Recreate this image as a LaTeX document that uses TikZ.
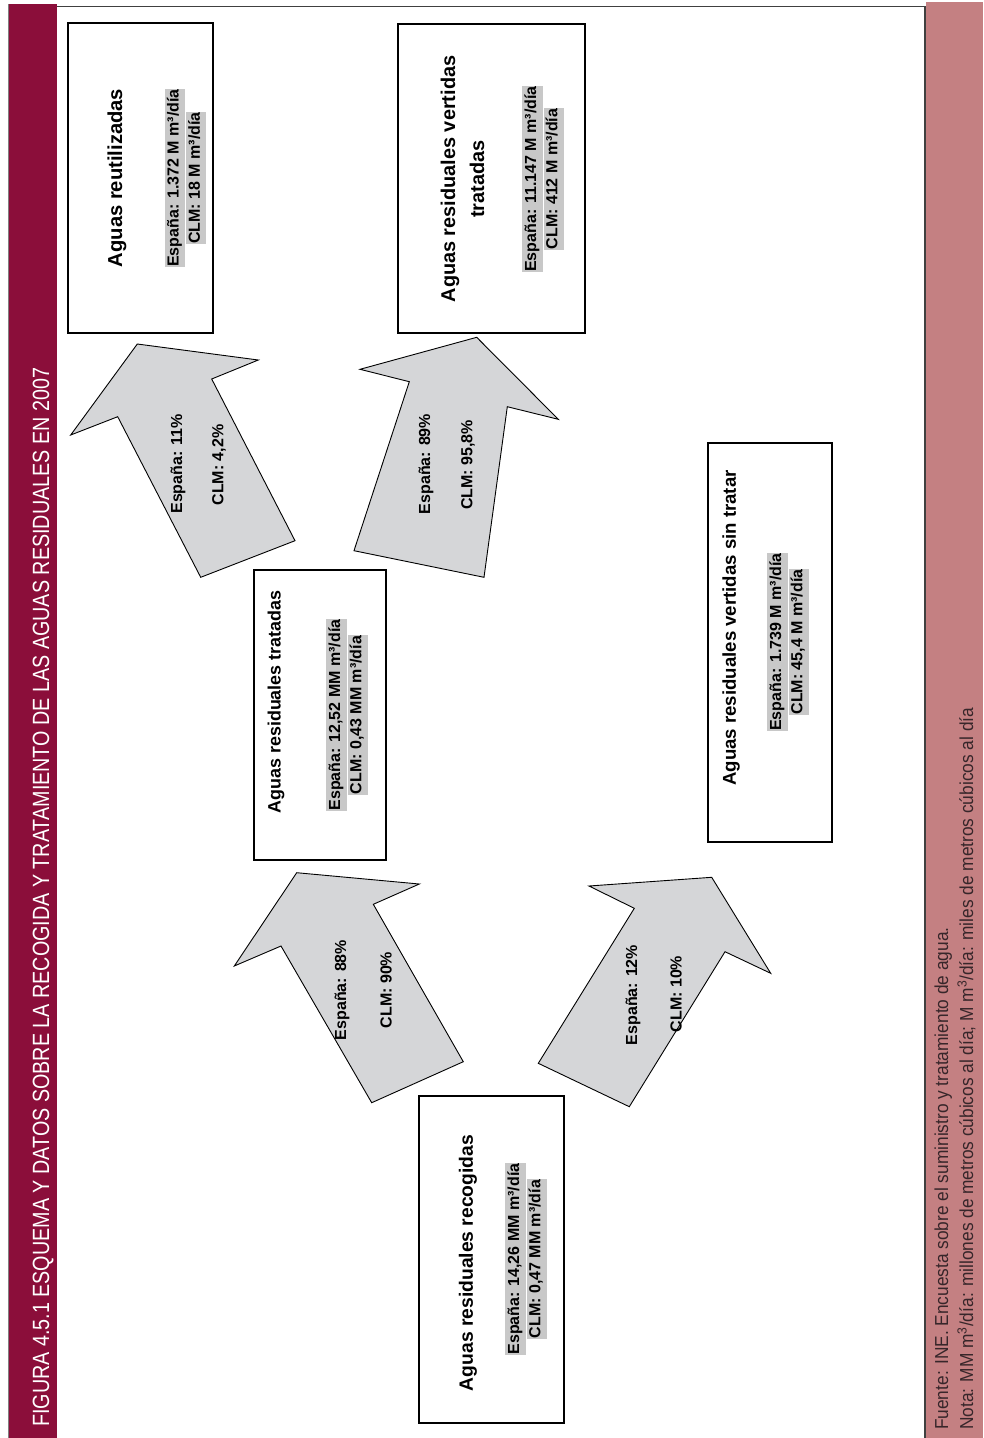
\documentclass[tikz,border=0pt]{standalone}
\usepackage{fontspec}
\setmainfont{Liberation Sans}
\newfontfamily\condfont[FakeStretch=0.84]{Liberation Sans}
\newfontfamily\notefont[FakeStretch=0.92]{Liberation Sans}

\definecolor{bandred}{RGB}{139,14,58}
\definecolor{bandpink}{RGB}{196,128,130}
\definecolor{arrowgray}{RGB}{213,214,216}
\definecolor{hlgray}{RGB}{200,200,200}
\definecolor{notetext}{RGB}{55,38,42}

\setlength{\fboxsep}{0.6pt}
\newcommand\hlline[1]{\colorbox{hlgray}{\strut #1}}

\tikzset{
  box/.style={draw=black, line width=1.3pt, fill=white, inner sep=0pt},
  title/.style={rotate=90, align=center, inner sep=0pt, font=\bfseries\fontsize{#1}{29}\selectfont},
  title/.default=20,
  data/.style={rotate=90, align=center, inner sep=0pt, font=\bfseries\fontsize{16}{19}\selectfont},
  flow/.style={draw=black, line width=0.9pt, fill=arrowgray, line join=miter},
  flowlabel/.style={rotate=90, inner sep=0pt, font=\bfseries\fontsize{16}{19}\selectfont}
}

\begin{document}
\begin{tikzpicture}[x=1pt,y=-1pt]
  \useasboundingbox (0,0) rectangle (983,1438);

  % side bands
  \fill[bandred] (8,4) rectangle (57,1438);
  \draw[gray, line width=0.6pt] (8,4) -- (8,1438);
  \fill[bandpink] (926,2) rectangle (983,1438);
  \draw[black!75, line width=1pt] (57,6) -- (926,6);
  \draw[black!75, line width=1.6pt] (925,6) -- (925,1438);
  \node[rotate=90, anchor=base west, inner sep=0pt, text=white,
        font=\condfont\fontsize{23.5}{26}\selectfont] (figtitle) at (49,1427)
    {FIGURA 4.5.1 ESQUEMA Y DATOS SOBRE LA RECOGIDA Y TRATAMIENTO DE LAS AGUAS RESIDUALES EN 2007};
  \node[rotate=90, anchor=base west, inner sep=0pt, text=notetext,
        font=\notefont\fontsize{18.8}{20}\selectfont] (fuente) at (948,1430)
    {Fuente: INE. Encuesta sobre el suministro y tratamiento de agua.};
  \node[rotate=90, anchor=base west, inner sep=0pt, text=notetext,
        font=\notefont\fontsize{18.8}{20}\selectfont] (nota) at (973,1430)
    {Nota: MM m\textsuperscript{3}/día: millones de metros cúbicos al día; M m\textsuperscript{3}/día: miles de metros cúbicos al día};

  % flow arrows
  \draw[flow] (70.7,435) -- (137.3,344) -- (258.3,360) -- (211.7,379) -- (295,540.7) -- (200.7,577.3) -- (117.7,416.7) -- cycle;
  \draw[flow] (360,369.3) -- (476.7,337.3) -- (558.3,419.3) -- (507.3,406.7) -- (484,577.3) -- (354,550.7) -- (409.3,381.7) -- cycle;
  \draw[flow] (234.3,966) -- (296.7,872.7) -- (419.3,884) -- (373.3,904.3) -- (463.3,1061.7) -- (371.7,1102.7) -- (281,946) -- cycle;
  \draw[flow] (589,886) -- (711.7,877.3) -- (770.7,973.3) -- (725,951.7) -- (629.3,1106.7) -- (538.3,1063.3) -- (634.3,908.3) -- cycle;

  \node[flowlabel] (reutesp) at (178,464) {España: 11\%};
  \node[flowlabel] (reutclm) at (219,465) {CLM: 4,2\%};
  \node[flowlabel] (vertesp) at (426,464) {España: 89\%};
  \node[flowlabel] (vertclm) at (468,465) {CLM: 95,8\%};
  \node[flowlabel] (tratesp) at (342,990) {España: 88\%};
  \node[flowlabel] (tratclm) at (386,990) {CLM: 90\%};
  \node[flowlabel] (sinesp) at (633,995) {España: 12\%};
  \node[flowlabel] (sinclm) at (676,994) {CLM: 10\%};

  % boxes
  \node[box, minimum width=145pt, minimum height=310pt] (reutilizadas) at (140.5,178) {};
  \node[title=20.2] (reuttitle) at (117,178) {Aguas reutilizadas};
  \node[data] (reutdata) at (185.5,178) {\hlline{España: 1.372 M m³/día}\\\hlline{CLM: 18 M m³/día}};

  \node[box, minimum width=187pt, minimum height=309pt] (vertidas) at (491.5,178.5) {};
  \node[title=19.9] (verttitle) at (462.5,179) {Aguas residuales vertidas\\tratadas};
  \node[data] (vertdata) at (543,179) {\hlline{España: 11.147 M m³/día}\\\hlline{CLM: 412 M m³/día}};

  \node[box, minimum width=132pt, minimum height=290pt] (tratadas) at (320,715) {};
  \node[title=17.9] (trattitle) at (276,702) {Aguas residuales tratadas};
  \node[data] (tratdata) at (347,715) {\hlline{España: 12,52 MM m³/día}\\\hlline{CLM: 0,43 MM m³/día}};

  \node[box, minimum width=124pt, minimum height=399pt] (sintratar) at (770,642.5) {};
  \node[title=18.6] (sintitle) at (731,628) {Aguas residuales vertidas sin tratar};
  \node[data] (sindata) at (788,642) {\hlline{España: 1.739 M m³/día}\\\hlline{CLM: 45,4 M m³/día}};

  \node[box, minimum width=145pt, minimum height=327pt] (recogidas) at (491.5,1259.5) {};
  \node[title=19.3] (recotitle) at (468,1263) {Aguas residuales recogidas};
  \node[data] (recodata) at (526,1259) {\hlline{España: 14,26 MM m³/día}\\\hlline{CLM: 0,47 MM m³/día}};
\end{tikzpicture}
\end{document}
